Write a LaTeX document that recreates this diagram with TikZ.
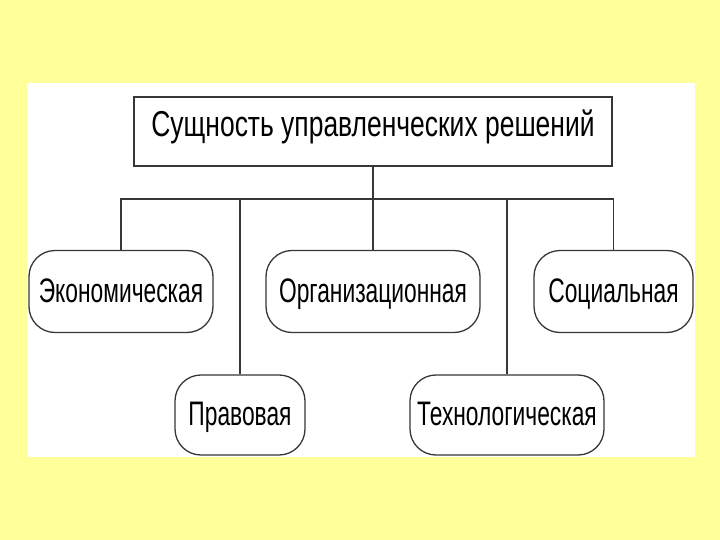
\documentclass[tikz,border=0pt]{standalone}
\usepackage{fontspec}
\setmainfont[FakeStretch=0.67]{Liberation Sans}
\newfontfamily\headfont[FakeStretch=0.735]{Liberation Sans}
\usepackage{tikz}
\usetikzlibrary{positioning}
\definecolor{slideyellow}{RGB}{255, 255, 153}
\definecolor{linegray}{RGB}{55, 55, 55}

\begin{document}
\begin{tikzpicture}[x=1pt, y=-1pt, line width=1.3pt, draw=linegray,
  every node/.style={draw=linegray, fill=white, inner sep=0pt, font=\fontsize{34}{40}\selectfont,
    text height=24pt, text depth=3pt},
  kind/.style={rounded corners=26pt, minimum height=82pt}]
  \fill[slideyellow] (0,0) rectangle (720,540);
  \fill[white] (27,83) rectangle (695,457);
  \node[minimum width=478pt, minimum height=69pt, font=\headfont\fontsize{36}{42}\selectfont,
    text height=26pt, text depth=16pt] (S) at (373,131.5) {Сущность управленческих решений};
  \node[kind, minimum width=184pt] (E) at (121,291.5) {Экономическая};
  \node[kind, minimum width=214pt] (O) at (373,291.5) {Организационная};
  \node[kind, minimum width=159pt] (C) at (613.5,291.5) {Социальная};
  \node[kind, minimum width=130pt, minimum height=80pt] (P) at (240,415) {Правовая};
  \node[kind, minimum width=194pt, minimum height=80pt] (T) at (507,415) {Технологическая};
  \coordinate (bar) at (373,199);
  \draw (S.south) -- (bar);
  \draw (E.north) |- (bar) -| (C.north);
  \draw (P.north) -- (P.north |- bar);
  \draw (O.north) -- (bar);
  \draw (T.north) -- (T.north |- bar);
\end{tikzpicture}
\end{document}
